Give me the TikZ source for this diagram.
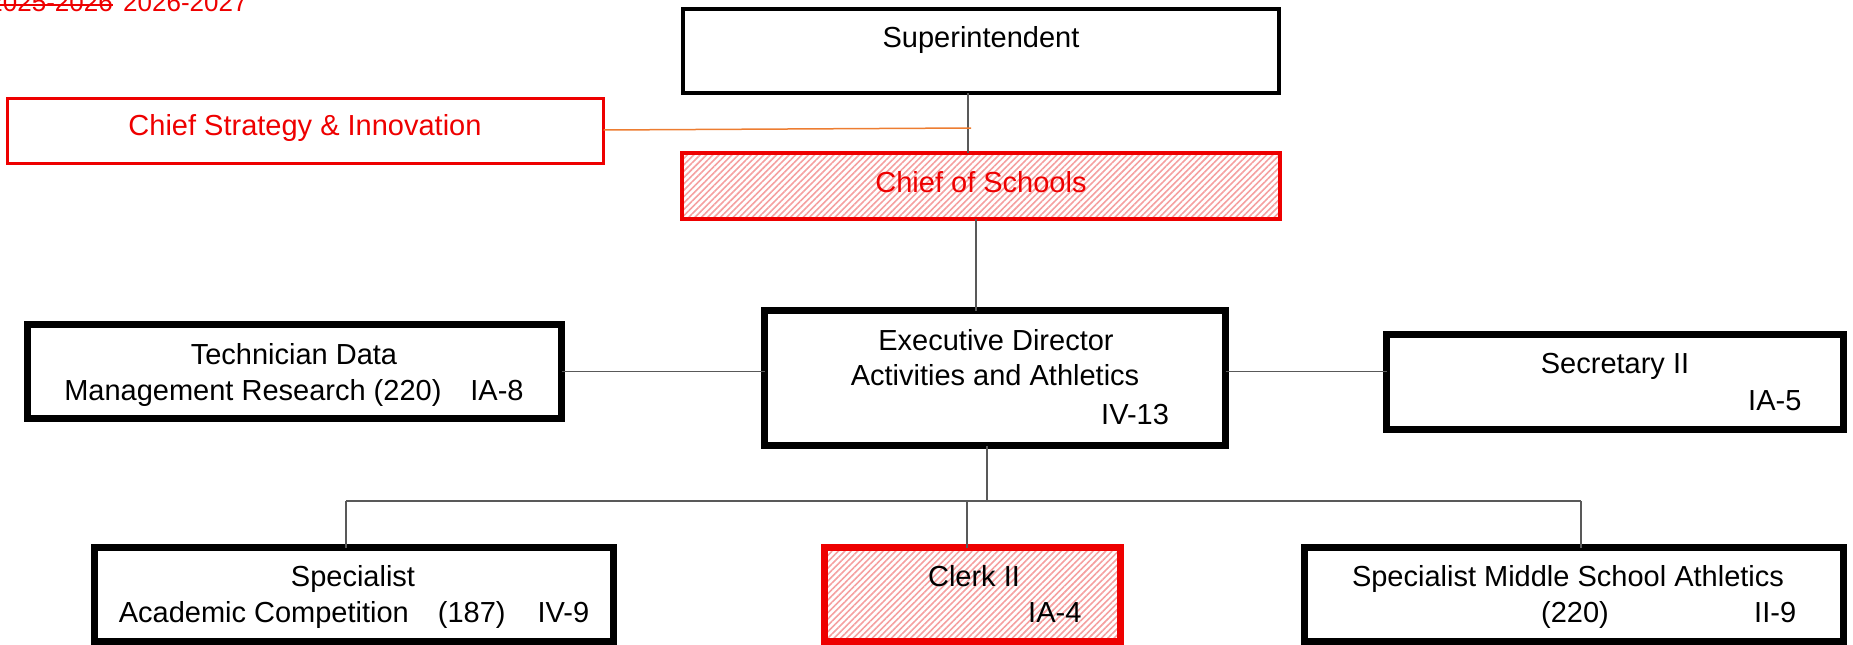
\documentclass[tikz,border=0pt]{standalone}
\usepackage{fontspec}
\setmainfont{Liberation Sans}
\usetikzlibrary{patterns.meta}
\definecolor{ored}{RGB}{238,0,0}
\definecolor{oorange}{RGB}{237,125,49}
\definecolor{conn}{RGB}{89,89,89}
\definecolor{hatch}{RGB}{245,160,160}
\begin{document}
\begin{tikzpicture}[x=1pt,y=-1pt,
  box/.style={draw=black, rectangle, inner sep=0pt, outer sep=0pt},
  thinbox/.style={box, line width=4pt},
  thickbox/.style={box, line width=7pt},
  redbox/.style={box, draw=ored, line width=3pt},
  hatchbox/.style={box, draw=ored, pattern={Lines[angle=45,distance=4.5pt,line width=1.6pt]}, pattern color=hatch},
  txt/.style={anchor=base, inner sep=0pt, font=\fontsize{29}{35}\selectfont},
  rtxt/.style={txt, text=ored},
  wtxt/.style={txt, anchor=base west},
  link/.style={draw=conn, line width=1.5pt},
]
\useasboundingbox (0,0) rectangle (1853,645);

% boxes
\node[thinbox, minimum width=596pt, minimum height=84pt] (supt) at (981,51) {};
\node[redbox, minimum width=596pt, minimum height=65pt] (csi) at (305.5,131) {};
\node[hatchbox, line width=4pt, minimum width=598pt, minimum height=66pt] (cos) at (981,186) {};
\node[thickbox, minimum width=461pt, minimum height=135pt] (exec) at (995,378) {};
\node[thickbox, minimum width=534pt, minimum height=94pt] (tech) at (294.5,371.5) {};
\node[thickbox, minimum width=457pt, minimum height=95pt] (sec) at (1615,382) {};
\node[thickbox, minimum width=519pt, minimum height=94pt] (spec) at (354,594.5) {};
\node[hatchbox, line width=7pt, minimum width=296pt, minimum height=94pt] (clerk) at (972.5,594.5) {};
\node[thickbox, minimum width=539pt, minimum height=94pt] (smsa) at (1574,594.5) {};

% texts
\node[txt] (supt-t) at (981,47) {Superintendent};
\node[rtxt] (csi-t) at (305,135) {Chief Strategy \& Innovation};
\node[rtxt] (cos-t) at (981,192) {Chief of Schools};
\node[txt] (exec-t1) at (996,350) {Executive Director};
\node[txt] (exec-t2) at (995,385) {Activities and Athletics};
\node[wtxt] (exec-t3) at (1101,424) {IV-13};
\node[txt] (tech-t1) at (294,364) {Technician Data};
\node[txt] (tech-t2) at (294,400) {Management Research (220)\hspace{29pt}IA-8};
\node[txt] (sec-t1) at (1615,373) {Secretary II};
\node[wtxt] (sec-t2) at (1748,410) {IA-5};
\node[txt] (spec-t1) at (353,586) {Specialist};
\node[txt] (spec-t2) at (354,622) {Academic Competition\hspace{29pt}(187)\hspace{32pt}IV-9};
\node[txt] (clerk-t1) at (974,586) {Clerk II};
\node[wtxt] (clerk-t2) at (1028,622) {IA-4};
\node[txt] (smsa-t1) at (1568,586) {Specialist Middle School Athletics};
\node[wtxt] (smsa-t2) at (1541,622) {(220)};
\node[wtxt] (smsa-t3) at (1754,622) {II-9};

% year label
\node[txt, font=\fontsize{26}{30}\selectfont, text=ored, anchor=base east] (old) at (113,12) {2025-2026};
\node[txt, font=\fontsize{26}{30}\selectfont, text=ored, anchor=base west] (new) at (123,12) {2026-2027};
\coordinate (sk) at (0,5);
\draw[ored, line width=2pt] (old.west |- sk) -- (old.east |- sk);

% connectors
\coordinate (sc) at (968,0);
\draw[link] (supt.south -| sc) -- (cos.north -| sc);
\coordinate (oe) at (971,128);
\draw[oorange, line width=1.5pt] ([yshift=1pt]csi.east) -- (oe);
\coordinate (ce) at (976,0);
\draw[link] (cos.south -| ce) -- (exec.north -| ce);
\draw[link] (tech.east) -- (exec.west |- tech.east);
\draw[link] (exec.east |- tech.east) -- (sec.west |- tech.east);
\coordinate (bx) at (987,501);
\draw[link] (exec.south -| bx) -- (bx);
\coordinate (b1) at (346,501);
\coordinate (b2) at (967,501);
\coordinate (b3) at (1581,501);
\draw[link] (b1) -- (b3);
\draw[link] (b1) -- (b1 |- spec.north);
\draw[link] (b2) -- (b2 |- clerk.north);
\draw[link] (b3) -- (b3 |- smsa.north);
\end{tikzpicture}
\end{document}
